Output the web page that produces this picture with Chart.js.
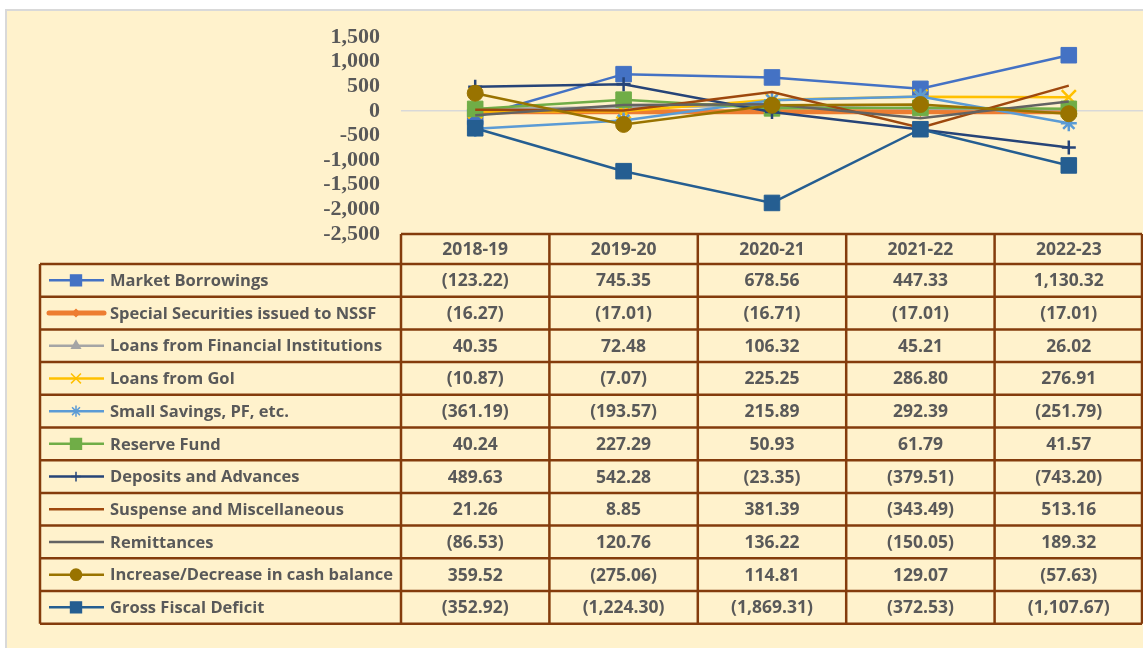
<!DOCTYPE html>
<html>
<head>
<meta charset="utf-8">
<script src="https://cdn.jsdelivr.net/npm/chart.js@4.4.0/dist/chart.umd.min.js"></script>
<style>
  html, body { margin: 0; padding: 0; background: #fff; }
  #frame { position: absolute; left: 5px; top: 9px; width: 1138px; height: 639px; background: #FFF2CC;
           border-top: 2px solid #D9D9D9; border-left: 2px solid #D9D9D9; box-sizing: border-box; }
  #wrap { position: absolute; left: 0; top: 0; width: 1143px; height: 648px; }
</style>
</head>
<body>
<div id="frame"></div>
<div id="wrap"><canvas id="chart" width="1143" height="648"></canvas></div>
<script>
const years = ['2018-19', '2019-20', '2020-21', '2021-22', '2022-23'];
const yTicks = [1500, 1000, 500, 0, -500, -1000, -1500, -2000, -2500];

const marketBorrowings = [-123.22, 745.35, 678.56, 447.33, 1130.32];
const specialSecurities = [-16.27, -17.01, -16.71, -17.01, -17.01];
const loansFI = [40.35, 72.48, 106.32, 45.21, 26.02];
const loansGoI = [-10.87, -7.07, 225.25, 286.80, 276.91];
const smallSavings = [-361.19, -193.57, 215.89, 292.39, -251.79];
const reserveFund = [40.24, 227.29, 50.93, 61.79, 41.57];
const deposits = [489.63, 542.28, -23.35, -379.51, -743.20];
const suspense = [21.26, 8.85, 381.39, -343.49, 513.16];
const remittances = [-86.53, 120.76, 136.22, -150.05, 189.32];
const cashBalance = [359.52, -275.06, 114.81, 129.07, -57.63];
const grossFiscalDeficit = [-352.92, -1224.30, -1869.31, -372.53, -1107.67];

const series = [
    { label: 'Market Borrowings', data: marketBorrowings, color: '#4472C4', style: 'rect', r: 11, w: 2.5 },
    { label: 'Special Securities issued to NSSF', data: specialSecurities, color: '#ED7D31', style: 'rectRot', r: 5, w: 5 },
    { label: 'Loans from Financial Institutions', data: loansFI, color: '#A5A5A5', style: 'triangle', r: 7, w: 2.5 },
    { label: 'Loans from GoI', data: loansGoI, color: '#FFC000', style: 'crossRot', r: 10, w: 2.5 },
    { label: 'Small Savings, PF, etc.', data: smallSavings, color: '#5B9BD5', style: 'star', r: 8, w: 2.5 },
    { label: 'Reserve Fund', data: reserveFund, color: '#70AD47', style: 'rect', r: 11, w: 2.5 },
    { label: 'Deposits and Advances', data: deposits, color: '#264478', style: 'cross', r: 7, w: 2.5 },
    { label: 'Suspense and Miscellaneous', data: suspense, color: '#9E480E', style: false, r: 0, w: 2.5 },
    { label: 'Remittances', data: remittances, color: '#636363', style: false, r: 0, w: 2.5 },
    { label: 'Increase/Decrease in cash balance', data: cashBalance, color: '#997300', style: 'circle', r: 8, w: 2.5 },
    { label: 'Gross Fiscal Deficit', data: grossFiscalDeficit, color: '#255E91', style: 'rect', r: 11, w: 2.5 }
];

function fmt(v) {
    const s = Math.abs(v).toLocaleString('en-US', { minimumFractionDigits: 2, maximumFractionDigits: 2 });
    return v < 0 ? '(' + s + ')' : s;
}

const TABLE_TOP = 234, HEAD_H = 30, ROW_H = 32.7, TABLE_LEFT = 40;
const BORDER = '#843C0C', TEXT = '#595959';
const LABEL_FONT = 'bold 16.5px "Open Sans", "Noto Sans", sans-serif';
const VALUE_FONT = 'bold 17.5px "Open Sans", "Noto Sans", sans-serif';

// data table with legend keys under the plot
const dataTable = {
    id: 'dataTable',
    afterDraw(chart) {
        const ctx = chart.ctx, x = chart.scales.x;
        const step = x.getPixelForValue(1) - x.getPixelForValue(0);
        const colL = i => x.getPixelForValue(i) - step / 2;
        const right = chart.width - 1;
        const bodyTop = TABLE_TOP + HEAD_H;
        const bottom = bodyTop + ROW_H * series.length;

        ctx.save();
        ctx.font = VALUE_FONT;
        ctx.fillStyle = TEXT;
        ctx.textAlign = 'center';
        ctx.textBaseline = 'middle';
        years.forEach((y, i) => ctx.fillText(y, x.getPixelForValue(i), TABLE_TOP + HEAD_H / 2 + 1));

        series.forEach((s, r) => {
            const cy = bodyTop + ROW_H * (r + 0.5);
            ctx.textAlign = 'center';
            ctx.fillStyle = TEXT;
            ctx.font = VALUE_FONT;
            s.data.forEach((v, i) => ctx.fillText(fmt(v), x.getPixelForValue(i), cy + 1));
            ctx.textAlign = 'left';
            ctx.font = LABEL_FONT;
            ctx.fillText(s.label, 110, cy + 1);

            // legend key
            ctx.strokeStyle = s.color;
            ctx.fillStyle = s.color;
            ctx.lineWidth = s.w === 5 ? 5 : 2.5;
            ctx.lineCap = s.w === 5 ? 'round' : 'butt';
            ctx.beginPath();
            ctx.moveTo(49, cy);
            ctx.lineTo(104, cy);
            ctx.stroke();
            if (s.style) {
                ctx.lineWidth = 1.5;
                Chart.helpers.drawPoint(ctx, { pointStyle: s.style, rotation: 0, radius: s.r * 0.7, borderWidth: 1.5 }, 76, cy);
            }
        });

        // grid
        ctx.strokeStyle = BORDER;
        ctx.lineWidth = 2.5;
        ctx.lineCap = 'butt';
        ctx.beginPath();
        ctx.moveTo(colL(0), TABLE_TOP); ctx.lineTo(right, TABLE_TOP);
        for (let r = 0; r <= series.length; r++) {
            const yy = bodyTop + ROW_H * r;
            ctx.moveTo(TABLE_LEFT, yy); ctx.lineTo(right, yy);
        }
        ctx.moveTo(TABLE_LEFT, bodyTop); ctx.lineTo(TABLE_LEFT, bottom);
        for (let i = 0; i <= years.length; i++) {
            const xx = i === years.length ? right : colL(i);
            ctx.moveTo(xx, TABLE_TOP); ctx.lineTo(xx, bottom);
        }
        ctx.stroke();
        ctx.restore();
    }
};

new Chart(document.getElementById('chart').getContext('2d'), {
    type: 'line',
    data: {
        labels: years,
        datasets: series.map((s, i) => ({
            label: s.label,
            data: s.data,
            borderColor: s.color,
            backgroundColor: s.color,
            borderWidth: s.w,
            pointStyle: s.style,
            pointRadius: s.r,
            pointHoverRadius: s.r,
            pointBorderWidth: s.style === 'cross' || s.style === 'crossRot' || s.style === 'star' ? 2.5 : 1,
            tension: 0,
            order: series.length - i
        }))
    },
    options: {
        responsive: false,
        animation: false,
        events: [],
        layout: { autoPadding: false, padding: { top: 37, bottom: 414, left: 0, right: 0 } },
        plugins: { legend: { display: false }, tooltip: { enabled: false } },
        scales: {
            x: { display: false, offset: true },
            y: {
                min: -2500, max: 1500,
                afterFit: scale => { scale.width = 401; },
                afterBuildTicks: scale => { scale.ticks = yTicks.map(v => ({ value: v })); },
                border: { display: false },
                grid: {
                    drawTicks: false,
                    lineWidth: 1.5,
                    color: c => (c.tick && c.tick.value === 0) ? '#D9D9D9' : 'rgba(0,0,0,0)'
                },
                ticks: {
                    autoSkip: false,
                    padding: 21,
                    color: TEXT,
                    font: { family: '"Liberation Serif", "Times New Roman", serif', size: 22, weight: 'bold', lineHeight: 1 },
                    callback: v => v.toLocaleString('en-US')
                }
            }
        }
    },
    plugins: [dataTable]
});
</script>
</body>
</html>
